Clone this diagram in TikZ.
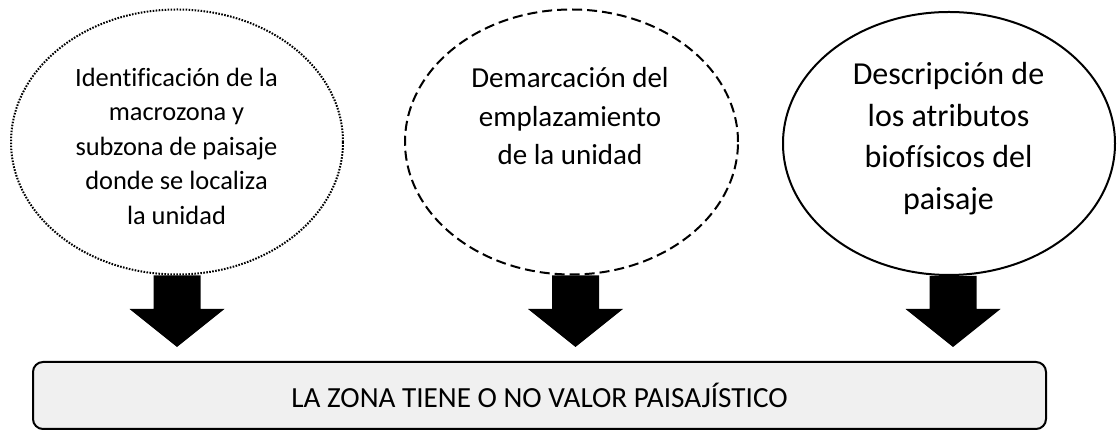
\documentclass[tikz,border=0pt]{standalone}
\usepackage{fontspec}
\setmainfont[Ligatures=NoCommon]{Carlito}
\usetikzlibrary{shapes.geometric,calc}
\definecolor{boxfill}{HTML}{F0F0F0}
\newcommand{\blkarrow}[3]{%
  \fill[arrowfill] let \p1=(#1.south), \p2=(#2.north) in
    (\x1+#3pt-23.5pt,\y1) -- (\x1+#3pt+23.5pt,\y1) -- (\x1+#3pt+23.5pt,\y2+52pt)
    -- (\x1+#3pt+47.5pt,\y2+52pt) -- (\x1+#3pt,\y2+14pt) -- (\x1+#3pt-47.5pt,\y2+52pt)
    -- (\x1+#3pt-23.5pt,\y2+52pt) -- cycle;}
\begin{document}
\begin{tikzpicture}[x=1pt,y=1pt,
  oval/.style={ellipse, inner sep=0pt, line width=2pt},
  txtone/.style={align=center, font=\fontsize{26.4}{34.5}\selectfont},
  txttwo/.style={align=center, font=\fontsize{29}{38.5}\selectfont},
  txtthree/.style={align=center, font=\fontsize{32}{41.5}\selectfont},
  arrowfill/.style={fill=black},
  resultbox/.style={draw=black, line width=2pt, fill=boxfill, rounded corners=10pt,
    minimum width=1013pt, minimum height=67pt, inner sep=0pt,
    font=\fontsize{29.2}{34}\selectfont}]
\useasboundingbox (0,0) rectangle (1117,430);
\node[oval, draw, dash pattern=on 1.6pt off 1.4pt, minimum width=332pt, minimum height=265pt] (e1) at (177,288) {};
\node[oval, draw, dash pattern=on 10pt off 5pt, minimum width=333pt, minimum height=265pt] (e2) at (571.5,288) {};
\node[oval, draw, minimum width=332pt, minimum height=263pt] (e3) at (949,286.5) {};
\node[txtone] (t1) at (176.5,284) {Identificación de la\\macrozona y\\subzona de paisaje\\donde se localiza\\la unidad};
\node[txttwo] (t2) at (570,313.5) {Demarcación del\\emplazamiento\\de la unidad};
\node[txtthree] (t3) at (948.5,291.5) {Descripción de\\los atributos\\biofísicos del\\paisaje};
\node[resultbox] (box) at (539.5,34.5) {LA ZONA TIENE O NO VALOR PAISAJÍSTICO};
\blkarrow{e1}{box}{0}
\blkarrow{e2}{box}{4}
\blkarrow{e3}{box}{4}
\end{tikzpicture}
\end{document}
